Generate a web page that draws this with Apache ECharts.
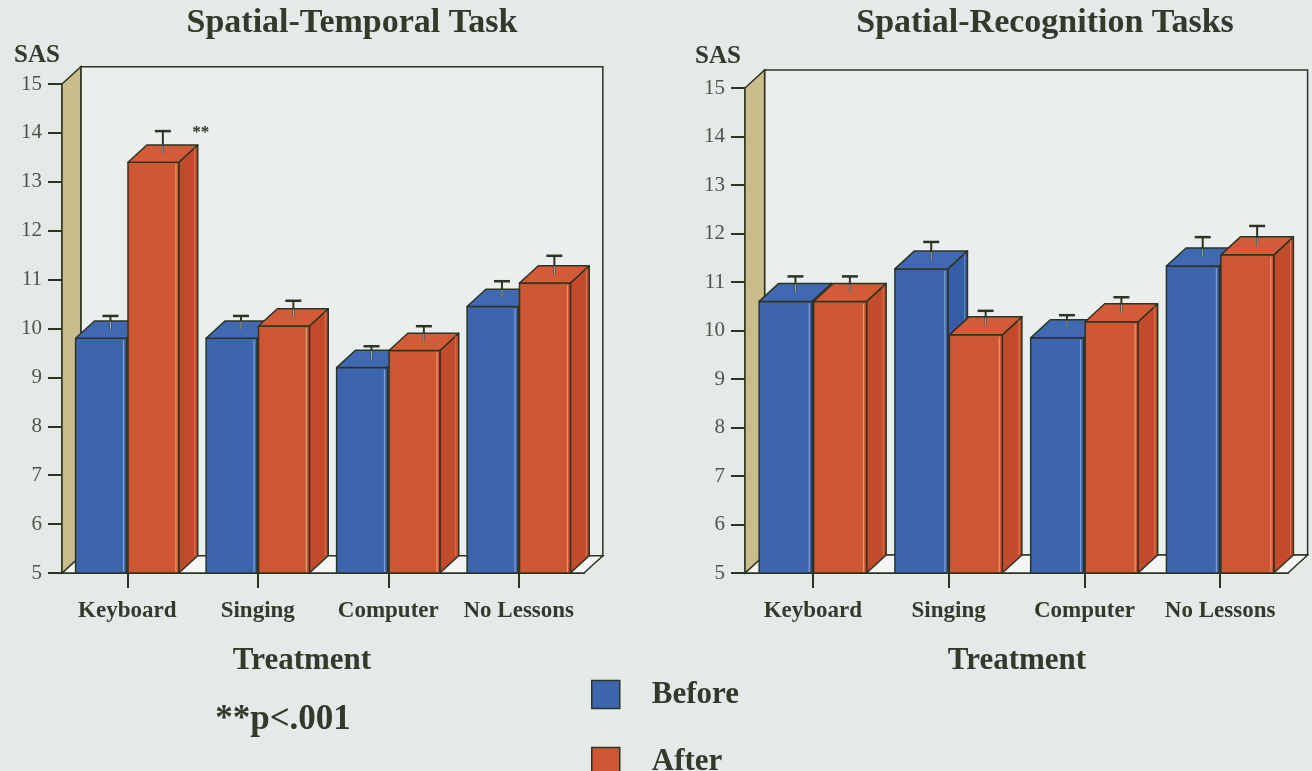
<!DOCTYPE html>
<html><head><meta charset="utf-8">
<script src="https://cdn.jsdelivr.net/npm/echarts@6/dist/echarts.min.js"></script>
<style>html,body{margin:0;padding:0;background:#e4eae7;}#c{width:1312px;height:771px;}</style>
</head><body><div id="c"></div>
<script>
// ---- data ----
const categories = ['Keyboard', 'Singing', 'Computer', 'No Lessons'];
const temporalBefore = [9.8, 9.8, 9.2, 10.45];
const temporalAfter = [13.4, 10.05, 9.55, 10.93];
const temporalBeforeErr = [0.28, 0.28, 0.26, 0.34];
const temporalAfterErr = [0.46, 0.34, 0.32, 0.38];
const temporalBeforeSig = ['', '', '', ''];
const temporalAfterSig = ['**', '', '', ''];
const recognitionBefore = [10.6, 11.27, 9.85, 11.33];
const recognitionAfter = [10.6, 9.91, 10.18, 11.56];
const recognitionBeforeErr = [0.33, 0.37, 0.28, 0.41];
const recognitionAfterErr = [0.33, 0.31, 0.32, 0.41];
const noSig = ['', '', '', ''];
const yMin = 5, yMax = 15, yStep = 1;

// ---- style ----
const FONT = '"Liberation Serif", "Times New Roman", serif';
const INK = '#2c3424';
const TXT = '#343a2b';
const BAR_FRAC = 0.39, DXF = 0.37, DYF = 0.34;
const BLUE = {front: '#3d65ad', top: '#4169b2', side: '#365ca3', hi: '#8db0e2'};
const RED = {front: '#cf5632', top: '#d35b37', side: '#c24b2b', hi: '#f3a37f'};

function frameRenderer(params, api) {
  const cs = params.coordSys;
  const band = api.size([1, 0])[0];
  const bw = band * BAR_FRAC, dx = bw * DXF, dy = bw * DYF;
  const x = cs.x, y = cs.y, w = cs.width, h = cs.height;
  return {type: 'group', children: [
    {type: 'rect', shape: {x: x + dx, y: y - dy, width: w, height: h},
     style: {fill: '#e9efed', stroke: INK, lineWidth: 1.5}},
    {type: 'polygon', shape: {points: [[x, y + h], [x + dx, y + h - dy], [x + w + dx, y + h - dy], [x + w, y + h]]},
     style: {fill: '#f3f6f4', stroke: INK, lineWidth: 1.5}},
    {type: 'polygon', shape: {points: [[x, y], [x + dx, y - dy], [x + dx, y + h - dy], [x, y + h]]},
     style: {fill: '#cbbd8b', stroke: INK, lineWidth: 1.5}}
  ]};
}

function barRenderer(side, sigs, pal) {
  return function (params, api) {
    const i = params.dataIndex;
    const cat = api.value(0), val = api.value(1), err = api.value(2);
    const top = api.coord([cat, val]);
    const bottom = api.coord([cat, yMin]);
    const errTop = api.coord([cat, val + err]);
    const band = api.size([1, 0])[0];
    const bw = band * BAR_FRAC, dx = bw * DXF, dy = bw * DYF, gap = 1.5;
    const x0 = side === 0 ? top[0] - gap / 2 - bw : top[0] + gap / 2;
    const x1 = x0 + bw, yt = top[1], yb = bottom[1];
    const ex = x0 + bw / 2 + dx / 2;
    const ln = {stroke: INK, lineWidth: 1.5, lineJoin: 'round'};
    const children = [
      {type: 'polygon', shape: {points: [[x1, yt], [x1 + dx, yt - dy], [x1 + dx, yb - dy], [x1, yb]]},
       style: Object.assign({fill: pal.side}, ln)},
      {type: 'rect', shape: {x: x0, y: yt, width: bw, height: yb - yt},
       style: Object.assign({fill: pal.front}, ln)},
      {type: 'polygon', shape: {points: [[x0, yt], [x0 + dx, yt - dy], [x1 + dx, yt - dy], [x1, yt]]},
       style: Object.assign({fill: pal.top}, ln)},
      {type: 'line', shape: {x1: x1 - 3, y1: yt + 2, x2: x1 - 3, y2: yb - 1},
       style: {stroke: pal.hi, lineWidth: 1.2, opacity: 0.8}},
      {type: 'line', shape: {x1: x1 + dx - 3, y1: yt - dy + 3, x2: x1 + dx - 3, y2: yb - dy},
       style: {stroke: pal.hi, lineWidth: 1, opacity: 0.5}},
      {type: 'line', shape: {x1: ex, y1: yt - dy / 2, x2: ex, y2: errTop[1] - dy / 2},
       style: {stroke: INK, lineWidth: 2}},
      {type: 'line', shape: {x1: ex, y1: yt - dy / 2, x2: ex, y2: yt - dy / 2 - 8},
       style: {stroke: '#c9dbe8', lineWidth: 1, opacity: 0.8}},
      {type: 'line', shape: {x1: ex - 8, y1: errTop[1] - dy / 2, x2: ex + 8, y2: errTop[1] - dy / 2},
       style: {stroke: INK, lineWidth: 2.5}}
    ];
    if (sigs[i]) {
      children.push({type: 'text', x: x1 + dx + 3, y: yt - dy - 12,
        style: {text: sigs[i], fill: INK, font: 'bold 17px ' + FONT, align: 'center', verticalAlign: 'middle'}});
    }
    return {type: 'group', children: children};
  };
}

function mkData(vals, errs) { return categories.map((c, i) => [i, vals[i], errs[i]]); }

function xAxis(g) {
  return {gridIndex: g, type: 'category', data: categories,
    axisLine: {show: true, lineStyle: {color: INK, width: 2}},
    axisTick: {show: true, alignWithLabel: true, length: 15, lineStyle: {color: INK, width: 2}},
    axisLabel: {interval: 0, margin: 27, fontFamily: FONT, fontSize: 23, fontWeight: 'bold', color: TXT},
    splitLine: {show: false}};
}
function yAxis(g) {
  return {gridIndex: g, type: 'value', min: yMin, max: yMax, interval: yStep,
    axisLine: {show: true, lineStyle: {color: INK, width: 1.5}},
    axisTick: {show: true, length: 14, lineStyle: {color: INK, width: 2}},
    axisLabel: {margin: 20, fontFamily: FONT, fontSize: 21, color: '#505349'},
    splitLine: {show: false}};
}
function ttl(text, x, y, size, weight) {
  return {text: text, left: x, top: y, textAlign: 'center', textVerticalAlign: 'middle', padding: 0,
    textStyle: {fontFamily: FONT, fontSize: size, fontWeight: weight || 'bold', color: TXT}};
}

const chart = echarts.init(document.getElementById('c'), null, {renderer: 'canvas'});
chart.setOption({
  backgroundColor: '#e4eae7',
  animation: false,
  title: [
    ttl('Spatial-Temporal Task', 352, 23, 34),
    ttl('Spatial-Recognition Tasks', 1045, 23, 34),
    ttl('SAS', 37, 56, 25),
    ttl('SAS', 718, 57, 25),
    ttl('Treatment', 302, 661, 31),
    ttl('Treatment', 1017, 661, 31),
    ttl('**p<.001', 283, 720, 35)
  ],
  legend: {data: ['Before', 'After'], orient: 'vertical', left: 591, top: 679, height: 160, padding: 0,
    itemWidth: 28, itemHeight: 28, itemGap: 36, icon: 'rect', selectedMode: false,
    itemStyle: {borderColor: INK, borderWidth: 1.5},
    textStyle: {fontFamily: FONT, fontSize: 31, lineHeight: 28, fontWeight: 'bold', color: TXT, padding: [0, 0, 0, 27]}},
  grid: [
    {left: 62, top: 84, width: 522, height: 489},
    {left: 745, top: 88, width: 543, height: 485}
  ],
  xAxis: [xAxis(0), xAxis(1)],
  yAxis: [yAxis(0), yAxis(1)],
  series: [
    {type: 'custom', name: 'frame0', xAxisIndex: 0, yAxisIndex: 0, z: 1, silent: true,
     data: [[0, yMin]], renderItem: frameRenderer},
    {type: 'custom', name: 'frame1', xAxisIndex: 1, yAxisIndex: 1, z: 1, silent: true,
     data: [[0, yMin]], renderItem: frameRenderer},
    {type: 'custom', name: 'Before', xAxisIndex: 0, yAxisIndex: 0, z: 3, silent: true,
     itemStyle: {color: BLUE.front}, encode: {x: 0, y: 1},
     data: mkData(temporalBefore, temporalBeforeErr), renderItem: barRenderer(0, temporalBeforeSig, BLUE)},
    {type: 'custom', name: 'After', xAxisIndex: 0, yAxisIndex: 0, z: 4, silent: true,
     itemStyle: {color: RED.front}, encode: {x: 0, y: 1},
     data: mkData(temporalAfter, temporalAfterErr), renderItem: barRenderer(1, temporalAfterSig, RED)},
    {type: 'custom', name: 'Before', xAxisIndex: 1, yAxisIndex: 1, z: 3, silent: true,
     itemStyle: {color: BLUE.front}, encode: {x: 0, y: 1},
     data: mkData(recognitionBefore, recognitionBeforeErr), renderItem: barRenderer(0, noSig, BLUE)},
    {type: 'custom', name: 'After', xAxisIndex: 1, yAxisIndex: 1, z: 4, silent: true,
     itemStyle: {color: RED.front}, encode: {x: 0, y: 1},
     data: mkData(recognitionAfter, recognitionAfterErr), renderItem: barRenderer(1, noSig, RED)}
  ]
});
</script></body></html>
